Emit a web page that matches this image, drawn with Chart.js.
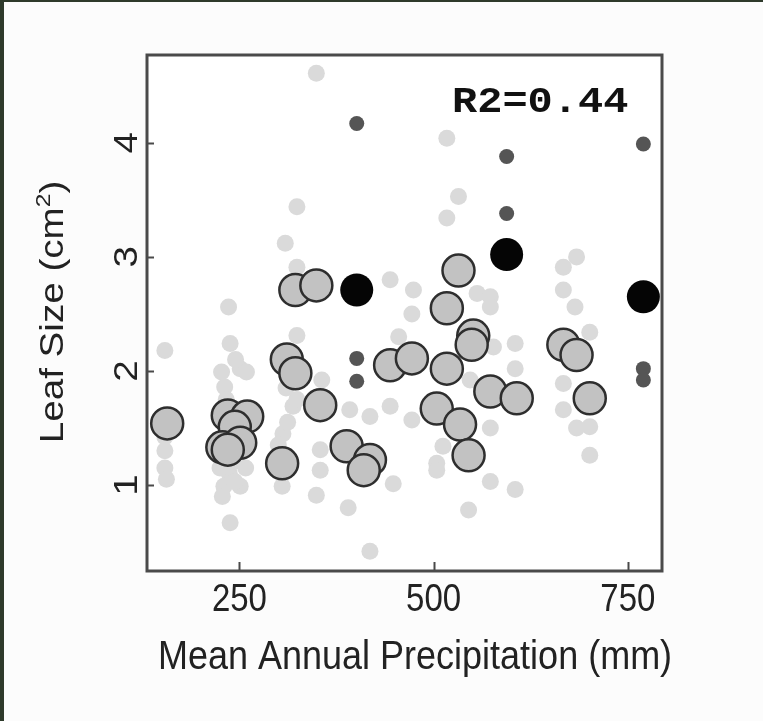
<!DOCTYPE html>
<html>
<head>
<meta charset="utf-8">
<script src="https://cdn.jsdelivr.net/npm/chart.js@4/dist/chart.umd.min.js"></script>
<style>
    body { margin: 0; background: #fcfcfc; }
    #wrap { width: 763px; height: 721px; }
</style>
</head>
<body>
<div id="wrap"><canvas id="idChartLeafSize" width="763" height="721"></canvas></div>
<script>
// light grey background points
var aLightX = [349, 517, 532, 517, 324, 309, 324, 236, 444, 667, 684, 667, 474, 556, 573, 154, 238, 227, 251, 259,
    231, 324, 356, 319, 392, 418, 444, 154, 154, 154, 156, 237, 230, 228, 251, 244, 238, 306, 305, 354,
    354, 349, 390, 418, 448, 324, 472, 472, 504, 504, 512, 573, 573, 605, 545, 605, 605, 667, 667, 684,
    701, 701, 701, 577, 547, 455, 573, 682, 245, 233, 241, 258, 225, 310, 312, 300];
var aLightY = [4.61, 4.04, 3.53, 3.34, 3.44, 3.12, 2.91, 2.56, 2.80, 2.91, 3.00, 2.71, 2.71, 2.68, 2.65, 2.18, 2.24, 1.99, 2.02, 1.99,
    1.86, 2.31, 1.92, 1.69, 1.66, 1.60, 1.69, 1.42, 1.30, 1.15, 1.05, 1.10, 0.99, 0.90, 0.99, 1.03, 0.67, 1.45, 0.99, 1.31,
    1.13, 0.91, 0.80, 0.42, 1.01, 1.75, 2.50, 1.57, 1.19, 1.13, 1.34, 1.50, 1.03, 0.96, 0.78, 2.24, 2.02, 1.89, 1.66, 1.50,
    1.51, 1.26, 2.34, 2.21, 1.92, 2.30, 2.56, 2.56, 2.10, 1.75, 1.20, 1.15, 1.15, 1.85, 1.55, 1.35];

// big outlined circles
var aGreyX = [157, 235, 260, 244, 228, 251, 235, 311, 322, 354, 305, 388, 418, 410, 444, 472, 322, 349, 532, 517,
    551, 549, 517, 667, 684, 573, 607, 701, 504, 534, 545];
var aGreyY = [1.54, 1.61, 1.60, 1.51, 1.33, 1.37, 1.31, 2.10, 1.98, 1.70, 1.19, 1.34, 1.22, 1.13, 2.05, 2.11, 2.71, 2.75, 2.88, 2.55,
    2.31, 2.23, 2.02, 2.23, 2.14, 1.82, 1.76, 1.76, 1.67, 1.53, 1.26];

// small dark points
var aDarkX = [401, 594, 594, 770, 401, 401, 770, 770];
var aDarkY = [4.17, 3.88, 3.38, 3.99, 2.11, 1.91, 2.02, 1.92];

// big black points
var aBlackX = [401, 594, 770];
var aBlackY = [2.71, 3.02, 2.65];

var aXTicks = [250, 500, 750];
var aYTicks = [1, 2, 3, 4];
var sXTitle = 'Mean Annual Precipitation (mm)';
var sYTitle = 'Leaf Size (cm';
var sYTitleSup = '2';
var sYTitleEnd = ')';
var sR2 = 'R2=0.44';

var SANS = '"Liberation Sans", Arial, sans-serif';
var SY = 1.17;

function toPoints(aX, aY) {
    var aData = [];
    for (var i = 0; i < aX.length; i++) {
        aData.push({ x: aX[i], y: aY[i] });
    }
    return aData;
}

function drawText(ctx, sText, x, y, bRotate, sAlign, fScale) {
    ctx.save();
    ctx.translate(x, y);
    ctx.scale(1, fScale);
    if (bRotate) {
        ctx.rotate(-Math.PI / 2);
    }
    ctx.textAlign = sAlign;
    ctx.textBaseline = 'alphabetic';
    ctx.fillText(sText, 0, 0);
    ctx.restore();
}

const oFramePlugin = {
    id: 'frame',
    beforeDraw: function (chart) {
        var ctx = chart.ctx;
        var a = chart.chartArea;
        ctx.save();
        ctx.fillStyle = '#fcfcfc';
        ctx.fillRect(0, 0, chart.width, chart.height);
        ctx.fillStyle = '#2e3a2b';
        ctx.fillRect(0, 0, 4, chart.height);
        ctx.fillRect(0, 0, chart.width, 2);
        ctx.fillStyle = '#ffffff';
        ctx.fillRect(a.left, a.top, a.right - a.left, a.bottom - a.top);
        ctx.restore();
    },
    afterDraw: function (chart) {
        var ctx = chart.ctx;
        var a = chart.chartArea;
        var oX = chart.scales.x;
        var oY = chart.scales.y;
        var i, p;

        ctx.save();
        ctx.strokeStyle = '#4a4a4a';
        ctx.lineWidth = 3;
        ctx.strokeRect(a.left, a.top, a.right - a.left, a.bottom - a.top);

        // inward ticks
        ctx.lineWidth = 2;
        ctx.beginPath();
        for (i = 0; i < aXTicks.length; i++) {
            p = Math.round(oX.getPixelForValue(aXTicks[i])) + 0.5;
            ctx.moveTo(p, a.bottom);
            ctx.lineTo(p, a.bottom - 9);
        }
        for (i = 0; i < aYTicks.length; i++) {
            p = Math.round(oY.getPixelForValue(aYTicks[i])) + 0.5;
            ctx.moveTo(a.left, p);
            ctx.lineTo(a.left + 7, p);
        }
        ctx.stroke();

        ctx.fillStyle = '#222222';
        ctx.font = '33px ' + SANS;
        for (i = 0; i < aXTicks.length; i++) {
            drawText(ctx, String(aXTicks[i]), oX.getPixelForValue(aXTicks[i]), 611, false, 'center', SY);
        }
        for (i = 0; i < aYTicks.length; i++) {
            drawText(ctx, String(aYTicks[i]), 137, oY.getPixelForValue(aYTicks[i]), true, 'center', SY);
        }

        // axis titles
        ctx.font = '36px ' + SANS;
        drawText(ctx, sXTitle, 415, 669, false, 'center', 1.12);

        ctx.font = '33px ' + SANS;
        var wMain = ctx.measureText(sYTitle).width;
        var wEnd = ctx.measureText(sYTitleEnd).width;
        ctx.font = '21px ' + SANS;
        var wSup = ctx.measureText(sYTitleSup).width;
        var wTotal = (wMain + wSup + wEnd) * SY;
        var yStart = 312 + wTotal / 2;
        ctx.font = '33px ' + SANS;
        drawText(ctx, sYTitle, 63, yStart, true, 'left', SY);
        ctx.font = '21px ' + SANS;
        drawText(ctx, sYTitleSup, 63 - 13, yStart - wMain * SY, true, 'left', SY);
        ctx.font = '33px ' + SANS;
        drawText(ctx, sYTitleEnd, 63, yStart - (wMain + wSup) * SY, true, 'left', SY);

        // R2 label
        ctx.fillStyle = '#111111';
        ctx.font = 'bold 42px "Courier New", "Liberation Mono", monospace';
        drawText(ctx, sR2, 452, 112, false, 'left', 0.9);
        ctx.restore();
    }
};

function initChartLeafSize() {

    const data = {
        datasets: [{
            label: 'other',
            data: toPoints(aLightX, aLightY),
            pointRadius: 8.5,
            pointBorderWidth: 0,
            pointBackgroundColor: '#dadada',
            pointBorderColor: '#dadada',
            order: 4
        }, {
            label: 'sites',
            data: toPoints(aGreyX, aGreyY),
            pointRadius: 16,
            pointBorderWidth: 2.5,
            pointBackgroundColor: '#c2c2c2',
            pointBorderColor: '#2e2e2e',
            order: 3
        }, {
            label: 'dark',
            data: toPoints(aDarkX, aDarkY),
            pointRadius: 7.5,
            pointBorderWidth: 0,
            pointBackgroundColor: '#555555',
            pointBorderColor: '#555555',
            order: 2
        }, {
            label: 'black',
            data: toPoints(aBlackX, aBlackY),
            pointRadius: 16.5,
            pointBorderWidth: 0,
            pointBackgroundColor: '#050505',
            pointBorderColor: '#050505',
            order: 1
        }]
    };

    const config = {
        type: 'scatter',
        data: data,
        options: {
            responsive: false,
            animation: false,
            devicePixelRatio: 1,
            layout: {
                padding: { left: 0, top: 55, right: 101, bottom: 0 }
            },
            scales: {
                x: {
                    type: 'linear',
                    min: 131,
                    max: 794,
                    grid: { display: false },
                    border: { display: false },
                    ticks: { display: false },
                    afterFit: function (scale) { scale.height = 150; }
                },
                y: {
                    type: 'linear',
                    min: 0.246,
                    max: 4.77,
                    grid: { display: false },
                    border: { display: false },
                    ticks: { display: false },
                    afterFit: function (scale) { scale.width = 147; }
                }
            },
            plugins: {
                legend: { display: false },
                tooltip: { enabled: false }
            }
        },
        plugins: [oFramePlugin]
    };

    const oChartLeafSize = new Chart(
        document.getElementById('idChartLeafSize'),
        config
    );
}

initChartLeafSize();
</script>
</body>
</html>
